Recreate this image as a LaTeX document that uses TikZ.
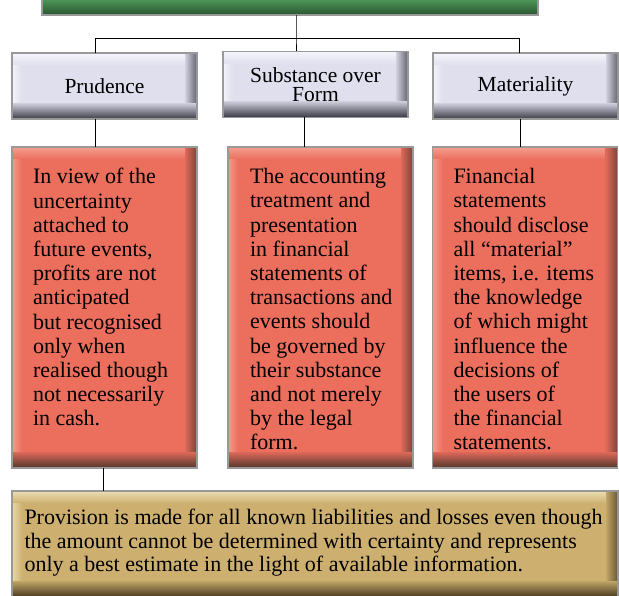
\documentclass[tikz,border=0pt]{standalone}
\usepackage{fontspec}
\setmainfont{Liberation Serif}
\definecolor{greenhi}{HTML}{86C893}
\definecolor{greenbase}{HTML}{52A05E}
\definecolor{greenlo}{HTML}{2C5832}
\definecolor{greyhi}{HTML}{F6F6FC}
\definecolor{greybase}{HTML}{DFDFEE}
\definecolor{greylo}{HTML}{454550}
\definecolor{redhi}{HTML}{F4A090}
\definecolor{redbase}{HTML}{EC6E5D}
\definecolor{redlo}{HTML}{5A3A30}
\definecolor{goldhi}{HTML}{ECDDB4}
\definecolor{goldbase}{HTML}{CDB06F}
\definecolor{goldlo}{HTML}{4F4024}

\begin{document}
\begin{tikzpicture}[x=1pt,y=-1pt]
	\tikzstyle{every node}+=[inner sep=0pt, outer sep=0pt]
	% bevel made of thin strips: light left and top, dark right and bottom
	\tikzset{panel/.style n args={3}{draw=black!40, line width=1.2pt, fill=#2,
		path picture={
			\foreach \i in {0,...,9} {
				\pgfmathtruncatemacro\p{90-\i*9}
				\fill[#1!\p!#2] ([xshift=\i pt]path picture bounding box.north west) rectangle ([xshift=\i pt+1.2pt]path picture bounding box.south west);
			}
			\foreach \i in {0,...,11} {
				\pgfmathtruncatemacro\p{100-\i*8}
				\fill[#1!\p!#2] ([yshift=-\i pt]path picture bounding box.north west) rectangle ([yshift=-\i pt-1.2pt]path picture bounding box.north east);
			}
			\foreach \i in {0,...,11} {
				\pgfmathtruncatemacro\p{75-\i*6}
				\fill[#3!\p!#2] ([xshift=-\i pt]path picture bounding box.north east) rectangle ([xshift=-\i pt-1.2pt]path picture bounding box.south east);
			}
			\foreach \i in {0,...,15} {
				\pgfmathtruncatemacro\p{100-\i*6}
				\fill[#3!\p!#2] ([yshift=\i pt]path picture bounding box.south west) rectangle ([yshift=\i pt+1.2pt]path picture bounding box.south east);
			}
		}}}
	\tikzstyle{head}=[panel={greyhi}{greybase}{greylo}, minimum width=185pt, minimum height=66pt, align=center, font=\fontsize{21.5}{19.5}\selectfont]
	\tikzstyle{desc}=[panel={redhi}{redbase}{redlo}, minimum width=185pt, minimum height=321pt]
	\tikzstyle{desctext}=[anchor=north west, align=left, font=\fontsize{22}{24.2}\selectfont]
	\useasboundingbox (0,0) rectangle (619,596);
	\clip (0,0) rectangle (619,596);
	% top box, mostly off the page
	\node [panel={greenhi}{greenbase}{greenlo}, minimum width=496pt, minimum height=34pt] (top) at (290,-2) {};
	% headings
	\node [head] (prud) at (104.5,86) {Prudence};
	\node [head] (sub) at (315.5,84.5) {Substance over\\Form};
	\node [head] (mat) at (525.5,86) {Materiality};
	% descriptions
	\node [desc] (pdesc) at (104.5,307.5) {};
	\node [desc] (sdesc) at (320.5,307.5) {};
	\node [desc] (mdesc) at (525,307.5) {};
	\node [desctext] (ptext) at ([shift={(21,21.5)}]pdesc.north west) {In view of the\\uncertainty\\attached to\\future events,\\profits are not\\anticipated\\but recognised\\only when\\realised though\\not necessarily\\in cash.};
	\node [desctext] (stext) at ([shift={(22,21.5)}]sdesc.north west) {The accounting\\treatment and\\presentation\\in financial\\statements of\\transactions and\\events should\\be governed by\\their substance\\and not merely\\by the legal\\form.};
	\node [desctext] (mtext) at ([shift={(21,21.5)}]mdesc.north west) {Financial\\statements\\should disclose\\all “material”\\items, i.e. items\\the knowledge\\of which might\\influence the\\decisions of\\the users of\\the financial\\statements.};
	% provision
	\node [panel={goldhi}{goldbase}{goldlo}, minimum width=606pt, minimum height=106pt] (prov) at (315,544) {};
	\node [desctext, font=\fontsize{22}{23.5}\selectfont] (provtext) at ([shift={(12.5,18.5)}]prov.north west) {Provision is made for all known liabilities and losses even though\\the amount cannot be determined with certainty and represents\\only a best estimate in the light of available information.};
	% connectors
	\coordinate (j) at (296,38);
	\coordinate (bl) at (95,38);
	\coordinate (br) at (519,38);
	\draw [black] (top.south -| j) -- (j) -- (sub.north -| j);
	\draw [black] (prud.north -| bl) |- (br) -- (mat.north -| br);
	\draw [black] ([xshift=-9pt]prud.south) -- ([xshift=-9pt]prud.south |- pdesc.north);
	\draw [black] ([xshift=-11.5pt]sub.south) -- ([xshift=-11.5pt]sub.south |- sdesc.north);
	\draw [black] ([xshift=-5.5pt]mat.south) -- ([xshift=-5.5pt]mat.south |- mdesc.north);
	\draw [black] ([xshift=-1.5pt]pdesc.south) -- ([xshift=-1.5pt]pdesc.south |- prov.north);
\end{tikzpicture}
\end{document}
